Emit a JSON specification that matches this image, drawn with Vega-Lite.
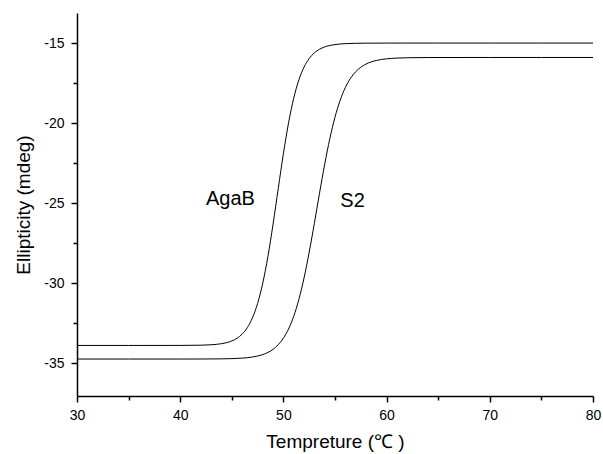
{
  "$schema": "https://vega.github.io/schema/vega-lite/v6.json",
  "width": 516,
  "height": 383,
  "autosize": "none",
  "padding": {"left": 77, "top": 13, "right": 10, "bottom": 58},
  "background": "white",
  "config": {
    "view": {"stroke": null},
    "font": "Liberation Sans",
    "axis": {
      "grid": false,
      "domainColor": "black",
      "domainWidth": 1.5,
      "tickColor": "black",
      "tickWidth": 1.5,
      "labelColor": "black",
      "labelFont": "Liberation Sans",
      "labelFontSize": 14,
      "labelFlush": false,
      "labelOverlap": false,
      "titleColor": "black",
      "titleFont": "Liberation Sans",
      "titleFontSize": 19,
      "titleFontWeight": "normal"
    }
  },
  "datasets": {
    "curves": [
      {"T": 30, "v": -33.9, "s": "AgaB"},
      {"T": 35, "v": -33.9, "s": "AgaB"},
      {"T": 40, "v": -33.898, "s": "AgaB"},
      {"T": 42, "v": -33.884, "s": "AgaB"},
      {"T": 43, "v": -33.858, "s": "AgaB"},
      {"T": 44, "v": -33.791, "s": "AgaB"},
      {"T": 44.5, "v": -33.725, "s": "AgaB"},
      {"T": 45, "v": -33.62, "s": "AgaB"},
      {"T": 45.5, "v": -33.455, "s": "AgaB"},
      {"T": 46, "v": -33.194, "s": "AgaB"},
      {"T": 46.5, "v": -32.79, "s": "AgaB"},
      {"T": 47, "v": -32.176, "s": "AgaB"},
      {"T": 47.5, "v": -31.274, "s": "AgaB"},
      {"T": 48, "v": -30.006, "s": "AgaB"},
      {"T": 48.5, "v": -28.335, "s": "AgaB"},
      {"T": 49, "v": -26.31, "s": "AgaB"},
      {"T": 49.5, "v": -24.091, "s": "AgaB"},
      {"T": 50, "v": -21.91, "s": "AgaB"},
      {"T": 50.5, "v": -19.987, "s": "AgaB"},
      {"T": 51, "v": -18.445, "s": "AgaB"},
      {"T": 51.5, "v": -17.3, "s": "AgaB"},
      {"T": 52, "v": -16.501, "s": "AgaB"},
      {"T": 52.5, "v": -15.962, "s": "AgaB"},
      {"T": 53, "v": -15.61, "s": "AgaB"},
      {"T": 53.5, "v": -15.384, "s": "AgaB"},
      {"T": 54, "v": -15.24, "s": "AgaB"},
      {"T": 55, "v": -15.094, "s": "AgaB"},
      {"T": 56, "v": -15.036, "s": "AgaB"},
      {"T": 57, "v": -15.014, "s": "AgaB"},
      {"T": 58, "v": -15.005, "s": "AgaB"},
      {"T": 60, "v": -15.001, "s": "AgaB"},
      {"T": 65, "v": -15.0, "s": "AgaB"},
      {"T": 70, "v": -15.0, "s": "AgaB"},
      {"T": 75, "v": -15.0, "s": "AgaB"},
      {"T": 80, "v": -15.0, "s": "AgaB"},
      {"T": 30, "v": -34.75, "s": "S2"},
      {"T": 35, "v": -34.75, "s": "S2"},
      {"T": 40, "v": -34.75, "s": "S2"},
      {"T": 42, "v": -34.748, "s": "S2"},
      {"T": 44, "v": -34.738, "s": "S2"},
      {"T": 45, "v": -34.724, "s": "S2"},
      {"T": 46, "v": -34.693, "s": "S2"},
      {"T": 47, "v": -34.624, "s": "S2"},
      {"T": 47.5, "v": -34.562, "s": "S2"},
      {"T": 48, "v": -34.472, "s": "S2"},
      {"T": 48.5, "v": -34.338, "s": "S2"},
      {"T": 49, "v": -34.141, "s": "S2"},
      {"T": 49.5, "v": -33.856, "s": "S2"},
      {"T": 50, "v": -33.447, "s": "S2"},
      {"T": 50.5, "v": -32.87, "s": "S2"},
      {"T": 51, "v": -32.076, "s": "S2"},
      {"T": 51.5, "v": -31.021, "s": "S2"},
      {"T": 52, "v": -29.681, "s": "S2"},
      {"T": 52.5, "v": -28.071, "s": "S2"},
      {"T": 53, "v": -26.264, "s": "S2"},
      {"T": 53.5, "v": -24.386, "s": "S2"},
      {"T": 54, "v": -22.579, "s": "S2"},
      {"T": 54.5, "v": -20.969, "s": "S2"},
      {"T": 55, "v": -19.628, "s": "S2"},
      {"T": 55.5, "v": -18.575, "s": "S2"},
      {"T": 56, "v": -17.781, "s": "S2"},
      {"T": 56.5, "v": -17.203, "s": "S2"},
      {"T": 57, "v": -16.793, "s": "S2"},
      {"T": 57.5, "v": -16.509, "s": "S2"},
      {"T": 58, "v": -16.313, "s": "S2"},
      {"T": 59, "v": -16.088, "s": "S2"},
      {"T": 60, "v": -15.985, "s": "S2"},
      {"T": 61, "v": -15.938, "s": "S2"},
      {"T": 62, "v": -15.917, "s": "S2"},
      {"T": 64, "v": -15.903, "s": "S2"},
      {"T": 70, "v": -15.9, "s": "S2"},
      {"T": 75, "v": -15.9, "s": "S2"},
      {"T": 80, "v": -15.9, "s": "S2"}
    ],
    "labels": [
      {"T": 44.87, "v": -25.125, "label": "AgaB"},
      {"T": 56.7, "v": -25.25, "label": "S2"}
    ]
  },
  "layer": [
    {
      "data": {"name": "curves"},
      "mark": {"type": "line", "color": "black", "strokeWidth": 1, "interpolate": "monotone", "clip": true},
      "encoding": {
        "x": {
          "field": "T", "type": "quantitative",
          "scale": {"domain": [30, 80], "nice": false, "zero": false},
          "axis": {
            "title": "Tempreture (℃ )",
            "values": [30, 35, 40, 45, 50, 55, 60, 65, 70, 75, 80],
            "labelExpr": "datum.value % 10 === 0 ? '' + datum.value : ''",
            "tickSize": {"condition": {"test": "datum.value % 10 === 0", "value": 6}, "value": 4},
            "labelPadding": 6,
            "titlePadding": 10
          }
        },
        "y": {
          "field": "v", "type": "quantitative",
          "scale": {"domain": [-37.06, -13.12], "nice": false, "zero": false},
          "axis": {
            "title": "Ellipticity (mdeg)",
            "values": [-35, -32.5, -30, -27.5, -25, -22.5, -20, -17.5, -15],
            "labelExpr": "datum.value % 5 === 0 ? '' + datum.value : ''",
            "tickSize": {"condition": {"test": "datum.value % 5 === 0", "value": 6}, "value": 4},
            "labelPadding": 7,
            "titlePadding": 10
          }
        },
        "detail": {"field": "s"}
      }
    },
    {
      "data": {"name": "labels"},
      "mark": {"type": "text", "font": "Liberation Sans", "fontSize": 20, "color": "black", "align": "center", "baseline": "alphabetic"},
      "encoding": {
        "x": {"field": "T", "type": "quantitative"},
        "y": {"field": "v", "type": "quantitative"},
        "text": {"field": "label"}
      }
    }
  ]
}
